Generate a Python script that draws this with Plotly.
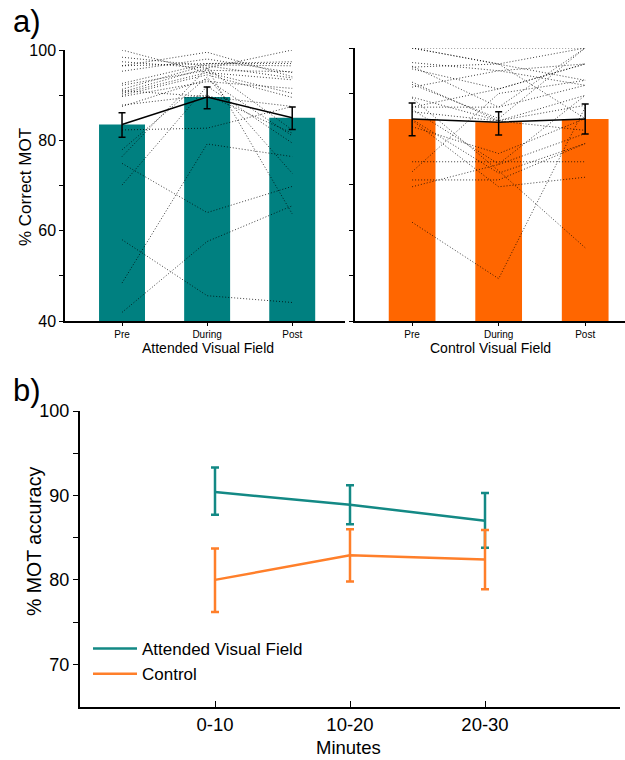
import plotly.graph_objects as go

# ---------------- data ----------------
phases = ["Pre", "During", "Post"]

att_mean = [83.5, 89.6, 85.0]
att_err_plus = [2.6, 2.2, 2.4]
att_err_minus = [2.8, 2.6, 2.6]

ctl_mean = [84.4, 83.7, 84.4]
ctl_err_plus = [3.5, 2.3, 3.3]
ctl_err_minus = [3.7, 2.8, 3.3]

att_pre = [41.9, 48.4, 58.0, 74.9, 70.1, 77.9, 82.3, 76.4, 87.8, 100.0, 97.4, 96.5,
           92.6, 91.3, 90.4, 89.7, 92.2, 91.0, 96.5, 90.7, 90.0, 98.4, 95.3, 87.5]
att_dur = [57.6, 79.2, 45.6, 64.0, 92.0, 94.0, 82.7, 96.0, 90.0, 95.0, 96.0, 99.5,
           97.0, 96.7, 95.0, 93.0, 95.5, 89.7, 97.0, 96.0, 94.5, 96.5, 98.0, 93.5]
att_post = [65.5, 76.4, 44.1, 69.8, 79.4, 72.7, 87.5, 63.7, 81.6, 93.4, 100.0, 94.1,
            97.4, 96.5, 90.4, 91.5, 95.2, 87.5, 97.0, 82.3, 89.5, 93.8, 95.0, 81.0]

ctl_pre = [61.7, 89.0, 69.5, 71.0, 75.0, 72.8, 82.7, 84.1, 100.0, 100.0, 96.8, 96.0,
           95.4, 92.5, 91.4, 89.2, 87.0, 86.0, 86.5, 100.0, 95.8, 87.0, 84.3, 92.0]
ctl_dur = [49.3, 73.0, 74.4, 71.0, 75.0, 90.0, 76.8, 69.5, 100.0, 96.5, 95.0, 87.0,
           91.0, 84.0, 95.0, 84.0, 91.0, 84.0, 74.5, 96.5, 96.5, 87.0, 72.5, 84.5]
ctl_post = [87.0, 56.1, 81.2, 79.0, 75.0, 92.9, 84.5, 71.6, 100.0, 100.0, 96.5, 100.0,
            96.5, 89.6, 91.8, 87.4, 96.5, 81.9, 89.6, 92.9, 84.5, 91.8, 79.0, 100.0]

time_labels = ["0-10", "10-20", "20-30"]
att_time = [90.4, 88.9, 87.0]
att_time_hi = [93.3, 91.2, 90.3]
att_time_lo = [87.7, 86.6, 83.8]
ctl_time = [80.0, 82.9, 82.4]
ctl_time_hi = [83.7, 86.0, 85.9]
ctl_time_lo = [76.2, 79.8, 78.9]

TEAL = "#008080"
ORANGE = "#FF6600"
TEAL_L = "#138985"
ORANGE_L = "#FF7F2A"
FONT = "Arial, Liberation Sans, sans-serif"
DOT = dict(color="rgba(0,0,0,0.75)", width=1, dash="1px,2px")

W, H = 625, 760


def px(x):
    return x / W


def py(y):
    return 1 - y / H


def subject_xy(pre, dur, post):
    xs, ys = [], []
    for a, b, c in zip(pre, dur, post):
        xs += phases + [None]
        ys += [a, b, c, None]
    return xs, ys


fig = go.Figure()

# ---------- panel a, left ----------
fig.add_trace(go.Bar(x=phases, y=att_mean, marker_color=TEAL, width=0.54,
                     marker_line_width=0, xaxis="x", yaxis="y", showlegend=False))
sx, sy = subject_xy(att_pre, att_dur, att_post)
fig.add_trace(go.Scatter(x=sx, y=sy, mode="lines", connectgaps=False, line=DOT,
                         xaxis="x", yaxis="y", showlegend=False))
fig.add_trace(go.Scatter(x=phases, y=att_mean, mode="lines",
                         line=dict(color="black", width=1.5),
                         error_y=dict(type="data", array=att_err_plus, arrayminus=att_err_minus,
                                      color="black", thickness=1.5, width=3.5),
                         xaxis="x", yaxis="y", showlegend=False))

# ---------- panel a, right ----------
fig.add_trace(go.Bar(x=phases, y=ctl_mean, marker_color=ORANGE, width=0.54,
                     marker_line_width=0, xaxis="x2", yaxis="y2", showlegend=False))
sx, sy = subject_xy(ctl_pre, ctl_dur, ctl_post)
fig.add_trace(go.Scatter(x=sx, y=sy, mode="lines", connectgaps=False, line=DOT,
                         xaxis="x2", yaxis="y2", showlegend=False))
fig.add_trace(go.Scatter(x=phases, y=ctl_mean, mode="lines",
                         line=dict(color="black", width=1.5),
                         error_y=dict(type="data", array=ctl_err_plus, arrayminus=ctl_err_minus,
                                      color="black", thickness=1.5, width=3.5),
                         xaxis="x2", yaxis="y2", showlegend=False))

# ---------- panel b ----------
fig.add_trace(go.Scatter(
    x=time_labels, y=att_time, mode="lines", name="Attended Visual Field",
    line=dict(color=TEAL_L, width=2.5),
    error_y=dict(type="data",
                 array=[h - m for h, m in zip(att_time_hi, att_time)],
                 arrayminus=[m - l for m, l in zip(att_time, att_time_lo)],
                 color=TEAL_L, thickness=2.5, width=4),
    xaxis="x3", yaxis="y3"))
fig.add_trace(go.Scatter(
    x=time_labels, y=ctl_time, mode="lines", name="Control",
    line=dict(color=ORANGE_L, width=2.5),
    error_y=dict(type="data",
                 array=[h - m for h, m in zip(ctl_time_hi, ctl_time)],
                 arrayminus=[m - l for m, l in zip(ctl_time, ctl_time_lo)],
                 color=ORANGE_L, thickness=2.5, width=4),
    xaxis="x3", yaxis="y3"))

ya_top, ya_bot = 50, 321
axis_common = dict(showgrid=False, zeroline=False, showline=True, linecolor="black",
                   automargin=False)

fig.update_layout(
    template="none",
    width=W, height=H, autosize=False,
    margin=dict(l=0, r=0, t=0, b=0, pad=0, autoexpand=False),
    paper_bgcolor="white", plot_bgcolor="rgba(0,0,0,0)",
    font=dict(family=FONT, color="black"),
    barmode="overlay",
    xaxis=dict(domain=[px(65), px(345)], anchor="y", type="category",
               categoryorder="array", categoryarray=phases,
               range=[-0.67, 2.62], ticks="outside", ticklen=3, tickcolor="black",
               tickfont=dict(size=10), linewidth=1.5, **axis_common),
    yaxis=dict(domain=[py(ya_bot), py(ya_top)], anchor="x", range=[40, 100],
               tickvals=[40, 50, 60, 70, 80, 90, 100],
               ticktext=["40", "", "60", "", "80", "", "100"],
               ticks="outside", ticklen=4, tickcolor="black", tickfont=dict(size=16),
               linewidth=1.5, **axis_common),
    xaxis2=dict(domain=[px(355), 1.0], anchor="y2", type="category",
                categoryorder="array", categoryarray=phases,
                range=[-0.66, 2.46], ticks="outside", ticklen=3, tickcolor="black",
                tickfont=dict(size=10), linewidth=1.5, **axis_common),
    yaxis2=dict(domain=[py(ya_bot), py(ya_top - 2)], anchor="x2", range=[40, 100],
                tickvals=[40, 50, 60, 70, 80, 90, 100], showticklabels=False,
                ticks="outside", ticklen=4, tickcolor="black",
                linewidth=1.5, **axis_common),
    xaxis3=dict(domain=[px(80), px(620)], anchor="y3", type="category",
                categoryorder="array", categoryarray=time_labels,
                range=[-1, 3], ticks="inside", ticklen=6, tickcolor="black",
                tickfont=dict(size=18.5), linewidth=2, **axis_common),
    yaxis3=dict(domain=[py(706.5), py(411)], anchor="x3", range=[65, 100],
                tickvals=[70, 75, 80, 85, 90, 95, 100],
                ticktext=["70", "", "80", "", "90", "", "100"],
                ticks="outside", ticklen=5, tickcolor="black", tickfont=dict(size=18),
                linewidth=2, **axis_common),
    legend=dict(x=px(88), y=py(631), xanchor="left", yanchor="top",
                bgcolor="rgba(0,0,0,0)", font=dict(size=17, family=FONT),
                itemwidth=44, tracegroupgap=0),
)

annotations = [
    dict(text="a)", x=px(11), y=py(21), xanchor="left", yanchor="middle",
         font=dict(size=31)),
    dict(text="b)", x=px(11), y=py(390), xanchor="left", yanchor="middle",
         font=dict(size=31)),
    dict(text="% Correct MOT", x=px(26), y=py(187), textangle=-90,
         xanchor="center", yanchor="middle", font=dict(size=17)),
    dict(text="Attended Visual Field", x=px(208), y=py(348), xanchor="center",
         yanchor="middle", font=dict(size=14)),
    dict(text="Control Visual Field", x=px(490), y=py(348), xanchor="center",
         yanchor="middle", font=dict(size=14)),
    dict(text="% MOT accuracy", x=px(34), y=py(542), textangle=-90,
         xanchor="center", yanchor="middle", font=dict(size=19.5)),
    dict(text="Minutes", x=px(348), y=py(747), xanchor="center",
         yanchor="middle", font=dict(size=18.5)),
]
for a in annotations:
    a.update(xref="paper", yref="paper", showarrow=False)
fig.update_layout(annotations=annotations)

fig.write_html("out.html", config={"displayModeBar": False},
               post_script="document.body.style.margin='0';document.body.style.padding='0';")
